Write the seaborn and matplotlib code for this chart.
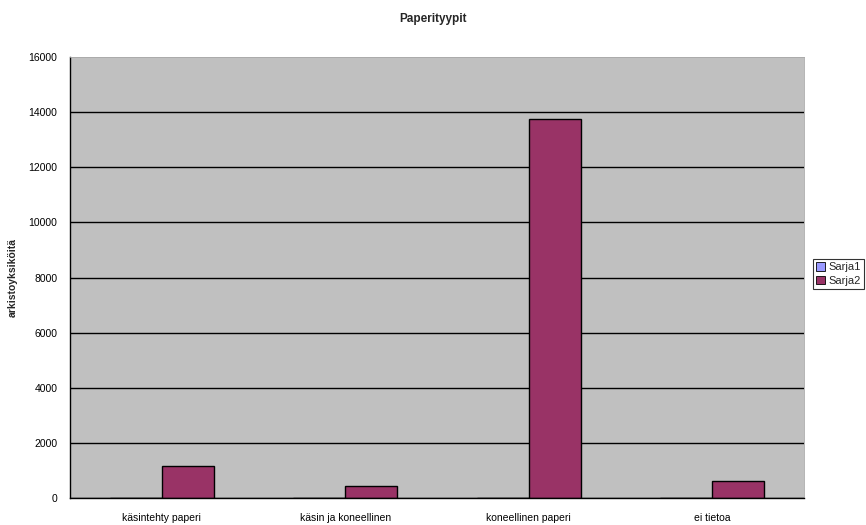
import pandas as pd
import seaborn as sns
import matplotlib.pyplot as plt
from matplotlib.ticker import FixedLocator

categories = ['käsintehty paperi', 'käsin ja koneellinen', 'koneellinen paperi', 'ei tietoa']
sarja1 = [0, 0, 0, 0]
sarja2 = [1150, 440, 13750, 600]
series_names = ['Sarja1', 'Sarja2']
series_colors = ['#9999FF', '#993366']

# long form table for seaborn
df = pd.DataFrame({
    'kategoria': categories * 2,
    'arvo': sarja1 + sarja2,
    'sarja': [series_names[0]] * len(categories) + [series_names[1]] * len(categories),
})

sns.set_style('white')
plt.rcParams['font.family'] = ['Liberation Sans', 'DejaVu Sans']

fig = plt.figure(figsize=(8.66, 5.25), dpi=100)
ax = fig.add_axes([0.0808, 0.0514, 0.8475, 0.84])
ax.set_facecolor('#C0C0C0')

sns.barplot(data=df, x='kategoria', y='arvo', hue='sarja',
            palette=series_colors, width=0.567, dodge=True,
            edgecolor='black', linewidth=1.0, saturation=1, ax=ax)

ax.set_ylim(0, 16000)
ax.set_xlim(-0.5, len(categories) - 0.5)
ax.set_yticks(range(0, 16001, 2000))
ax.yaxis.grid(True, color='black', linewidth=1.0)
ax.get_ygridlines()[-1].set_visible(False)
ax.set_axisbelow(True)

# category ticks sit between the groups, like the original
ax.xaxis.set_minor_locator(FixedLocator([i - 0.5 for i in range(len(categories) + 1)]))
ax.tick_params(axis='x', which='major', length=0, labelsize=7.5, pad=11)
ax.tick_params(axis='x', which='minor', length=4, width=0.8, color='black', direction='out')
ax.tick_params(axis='y', length=5, width=0.8, color='black', direction='out', labelsize=7.5, pad=4)
ax.tick_params(axis='both', colors='black')

for side in ['left', 'bottom']:
    ax.spines[side].set_color('black')
    ax.spines[side].set_linewidth(1.0)
for side in ['top', 'right']:
    ax.spines[side].set_color('#A8A8A8')
    ax.spines[side].set_linewidth(0.6)

ax.set_xlabel('')
ax.set_ylabel('arkistoyksiköitä', fontsize=7.5, fontweight='bold', labelpad=8)
fig.suptitle('Paperityypit', fontsize=8.5, fontweight='bold', x=0.5, y=0.976)

leg = ax.legend(loc='center left', bbox_to_anchor=(1.012, 0.508), frameon=True,
                fontsize=8, handlelength=0.8, handleheight=0.8, handletextpad=0.3,
                borderpad=0.3, labelspacing=0.3, borderaxespad=0, fancybox=False)
leg.get_frame().set_edgecolor('black')
leg.get_frame().set_linewidth(0.8)
for h in leg.legend_handles:
    h.set_edgecolor('black')
    h.set_linewidth(0.6)

fig.savefig('out.png', dpi=100)
